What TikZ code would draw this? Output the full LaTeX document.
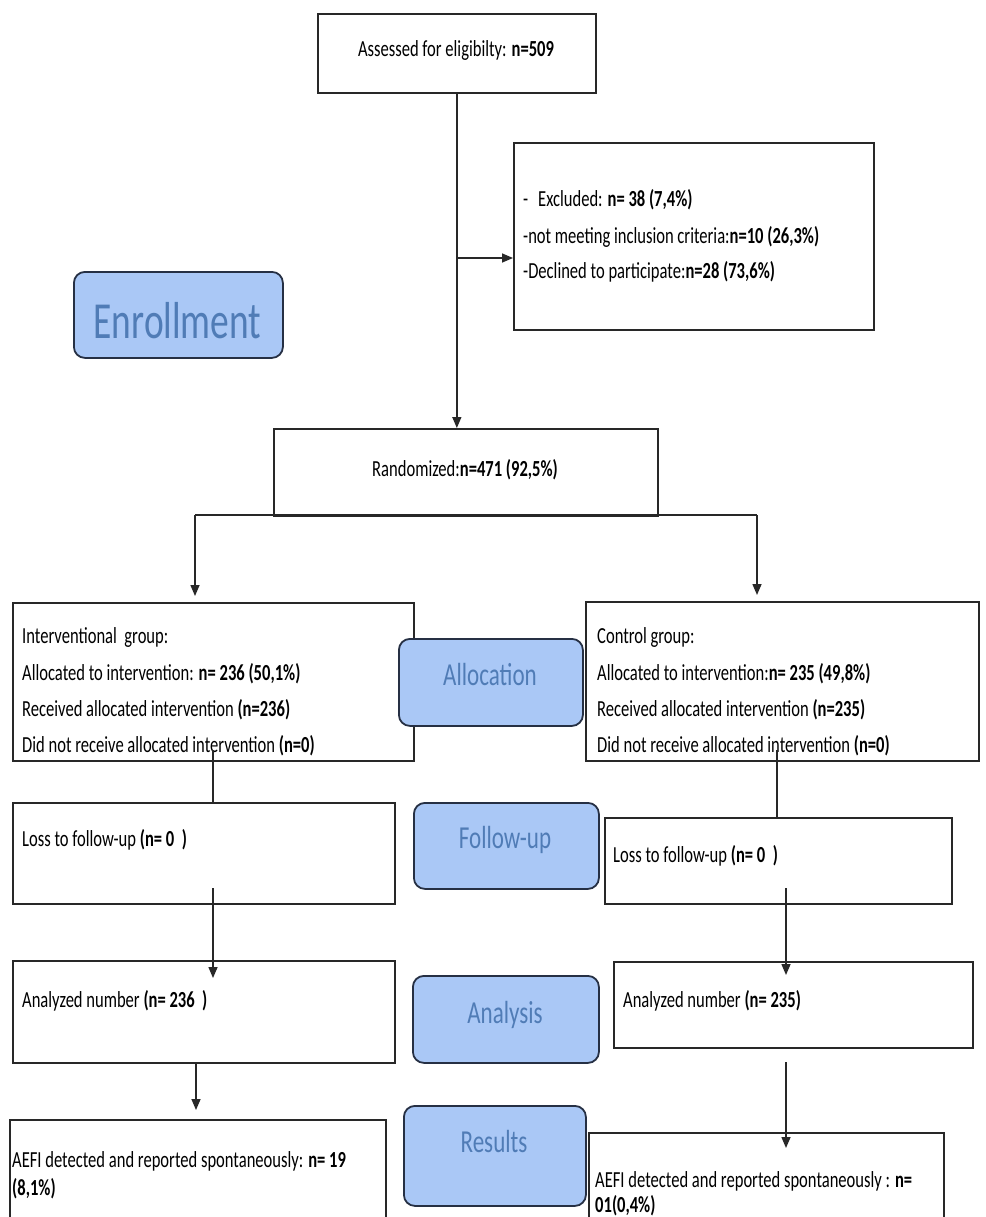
\documentclass[tikz,border=0pt]{standalone}
\usepackage{fontspec}
\setmainfont{Carlito}[FakeStretch=0.72]
\usetikzlibrary{arrows.meta}
\definecolor{labfill}{RGB}{170,200,246}
\definecolor{labtext}{RGB}{80,124,182}
\definecolor{labdraw}{RGB}{38,48,68}
\definecolor{boxdraw}{RGB}{40,40,40}
\begin{document}
\begin{tikzpicture}[x=1pt,y=-1pt,
  box/.style={draw=boxdraw, line width=1.7pt, fill=white, inner sep=0pt, anchor=north west},
  lab/.style={draw=labdraw, line width=1.8pt, fill=labfill, rounded corners=11pt, inner sep=0pt, anchor=north west},
  labtxt/.style={anchor=base, inner sep=0pt, text=labtext, font=\fontsize{32}{36}\selectfont},
  txt/.style={anchor=base west, inner sep=0pt, font=\fontsize{23}{28}\selectfont},
  ctxt/.style={anchor=base, inner sep=0pt, font=\fontsize{23}{28}\selectfont},
  ln/.style={draw=boxdraw, line width=1.5pt},
  arr/.style={draw=boxdraw, line width=1.5pt, -{Triangle[length=11pt,width=9pt]}}]
\clip (0,0) rectangle (985,1217);
\fill[white] (0,0) rectangle (985,1217);

% boxes
\node[box, minimum width=278pt, minimum height=79pt] (A) at (317,13) {};
\node[box, minimum width=360pt, minimum height=187pt] (E) at (513,142) {};
\node[box, minimum width=384pt, minimum height=87pt] (R) at (273,428) {};
\node[box, minimum width=401pt, minimum height=158pt] (I) at (12,602) {};
\node[box, minimum width=393pt, minimum height=159pt] (C) at (585,601) {};
\node[box, minimum width=382pt, minimum height=101pt] (L1) at (12,802) {};
\node[box, minimum width=347pt, minimum height=86pt] (L2) at (604,817) {};
\node[box, minimum width=382pt, minimum height=102pt] (N1) at (12,960) {};
\node[box, minimum width=359pt, minimum height=86pt] (N2) at (613,961) {};
\node[box, minimum width=376pt, minimum height=150pt] (R1) at (9,1119) {};
\node[box, minimum width=355pt, minimum height=150pt] (R2) at (588,1132) {};

% stage labels
\node[lab, minimum width=209pt, minimum height=86pt] (enr) at (73,271) {};
\node[labtxt, font=\fontsize{52}{56}\selectfont] (enrT) at (177.5,338) {Enrollment};
\node[lab, minimum width=184pt, minimum height=87pt] (alloc) at (398,638) {};
\node[labtxt] (allocT) at (490,685) {Allocation};
\node[lab, minimum width=185pt, minimum height=86pt] (fu) at (413,802) {};
\node[labtxt] (fuT) at (505,848) {Follow-up};
\node[lab, minimum width=186pt, minimum height=87pt] (anal) at (412,975) {};
\node[labtxt] (analT) at (505,1023) {Analysis};
\node[lab, minimum width=182pt, minimum height=100pt] (res) at (403,1105) {};
\node[labtxt] (resT) at (494,1152) {Results};

% texts
\node[ctxt] (At) at (456,57) {Assessed for eligibilty: \textbf{n=509}};
\node[txt] (E0) at (523,206) {-};
\node[txt] (E1) at (538,206) {Excluded: \textbf{n= 38 (7,4\%)}};
\node[txt] (E2) at (523,243) {-not meeting inclusion criteria:\textbf{n=10 (26,3\%)}};
\node[txt] (E3) at (523,278) {-Declined to participate:\textbf{n=28 (73,6\%)}};
\node[ctxt] (Rt) at (465,476) {Randomized:\textbf{n=471 (92,5\%)}};
\node[txt] (I1) at (22,643) {Interventional\ \ group:};
\node[txt] (I2) at (22,680) {Allocated to intervention: \textbf{n= 236 (50,1\%)}};
\node[txt] (I3) at (22,716) {Received allocated intervention \textbf{(n=236)}};
\node[txt] (I4) at (22,752) {Did not receive allocated intervention \textbf{(n=0)}};
\node[txt] (C1) at (597,643) {Control group:};
\node[txt] (C2) at (597,680) {Allocated to intervention:\textbf{n= 235 (49,8\%)}};
\node[txt] (C3) at (597,716) {Received allocated intervention \textbf{(n=235)}};
\node[txt] (C4) at (597,752) {Did not receive allocated intervention \textbf{(n=0)}};
\node[txt] (L1t) at (22,846) {Loss to follow-up \textbf{(n= 0\ \ )}};
\node[txt] (L2t) at (613,862) {Loss to follow-up \textbf{(n= 0\ \ )}};
\node[txt] (N1t) at (22,1007) {Analyzed number \textbf{(n= 236\ \ )}};
\node[txt] (N2t) at (623,1007) {Analyzed number \textbf{(n= 235)}};
\node[txt] (R1a) at (12,1167) {AEFI detected and reported spontaneously: \textbf{n= 19}};
\node[txt] (R1b) at (12,1195) {\textbf{(8,1\%)}};
\node[txt] (R2a) at (595,1187) {AEFI detected and reported spontaneously : \textbf{n=}};
\node[txt] (R2b) at (595,1212) {\textbf{01(0,4\%)}};

% connectors
\draw[arr] (A.south) -- (A.south |- R.north);
\coordinate (b1) at (456,258);
\draw[arr] (b1) -- (b1 -| E.west);
\coordinate (sl) at (195,515);
\coordinate (sr) at (757,515);
\draw[ln] (sl) -- (sr);
\draw[arr, shorten >=6pt] (sl) -- (sl |- I.north);
\draw[arr, shorten >=6pt] (sr) -- (sr |- C.north);
\coordinate (i1) at (213,750);
\draw[ln] (i1) -- (i1 |- L1.north);
\coordinate (c1) at (777,750);
\draw[ln] (c1) -- (c1 |- L2.north);
\coordinate (l1s) at (213,888);
\coordinate (l1e) at (213,978);
\draw[arr] (l1s) -- (l1e);
\coordinate (l2s) at (786,888);
\coordinate (l2e) at (786,975);
\draw[arr] (l2s) -- (l2e);
\coordinate (n1s) at (196,1062);
\coordinate (n1e) at (196,1110);
\draw[arr] (n1s) -- (n1e);
\coordinate (n2s) at (786,1062);
\coordinate (n2e) at (786,1148);
\draw[arr] (n2s) -- (n2e);
\end{tikzpicture}
\end{document}
